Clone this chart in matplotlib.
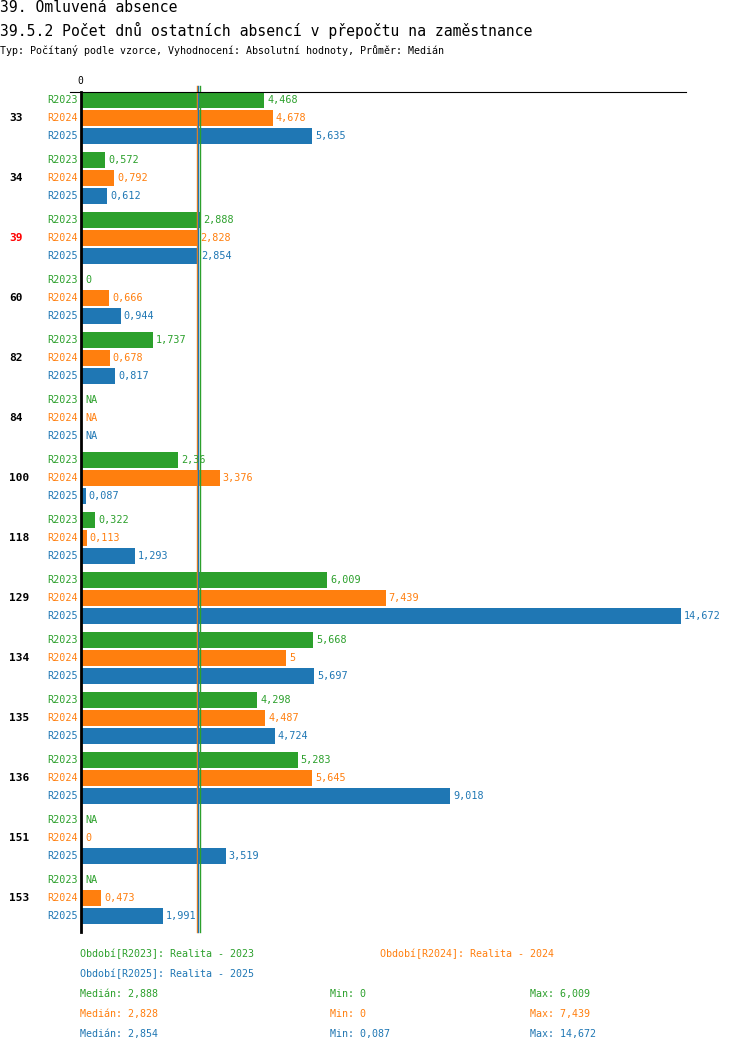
import matplotlib
matplotlib.use("Agg")
import matplotlib.pyplot as plt
import numpy as np

categories = ["33", "34", "39", "60", "82", "84", "100", "118", "129", "134", "135", "136", "151", "153"]
highlight = "39"
series = ["R2023", "R2024", "R2025"]
colors = ["#2ca02c", "#ff7f0e", "#1f77b4"]
# None = NA
r2023 = [4.468, 0.572, 2.888, 0.0, 1.737, None, 2.36, 0.322, 6.009, 5.668, 4.298, 5.283, None, None]
r2024 = [4.678, 0.792, 2.828, 0.666, 0.678, None, 3.376, 0.113, 7.439, 5.0, 4.487, 5.645, 0.0, 0.473]
r2025 = [5.635, 0.612, 2.854, 0.944, 0.817, None, 0.087, 1.293, 14.672, 5.697, 4.724, 9.018, 3.519, 1.991]
values = [r2023, r2024, r2025]

title1 = "39. Omluvená absence"
title2 = "39.5.2 Počet dnů ostatních absencí v přepočtu na zaměstnance"
subtitle = "Typ: Počítaný podle vzorce, Vyhodnocení: Absolutní hodnoty, Průměr: Medián"
period_labels = ["Období[R2023]: Realita - 2023", "Období[R2024]: Realita - 2024", "Období[R2025]: Realita - 2025"]

W, H = 750, 1052
MONO = ["DejaVu Sans Mono"]


def fmt(v):
    s = f"{v:.3f}".rstrip("0").rstrip(".")
    return s.replace(".", ",")


def fx(x):
    return x / W


def fy(y):
    return 1 - y / H


fig = plt.figure(figsize=(W / 100, H / 100), dpi=100)
fig.patch.set_facecolor("white")

# titles
fig.text(fx(0), fy(8), title1, fontsize=10.6, family=MONO, va="center", ha="left")
fig.text(fx(0), fy(30), title2, fontsize=10.6, family=MONO, va="center", ha="left")
fig.text(fx(0), fy(50), subtitle, fontsize=7.2, family=MONO, va="center", ha="left")

# axes area
ax_left, ax_right, ax_top, ax_bottom = 82, 686, 92, 932
ax = fig.add_axes([fx(ax_left), fy(ax_bottom), (ax_right - ax_left) / W, (ax_bottom - ax_top) / H])
ax.set_xlim(0, 14.8)
n = len(categories)
group_h = 60
slot = 18
total = n * group_h
ax.set_ylim(total, 0)
for s in ax.spines.values():
    s.set_visible(False)
ax.set_xticks([])
ax.set_yticks([])
ax.patch.set_alpha(0)

# top line and left axis line
fig.add_artist(plt.Line2D([fx(70), fx(686)], [fy(92), fy(92)], color="black", lw=0.8))
fig.add_artist(plt.Line2D([fx(81), fx(81)], [fy(92), fy(932)], color="black", lw=2.0))
fig.text(fx(80), fy(81), "0", fontsize=7, family=MONO, ha="center", va="center")

# medians
medians = []
mins = []
maxs = []
for vals in values:
    arr = np.array([v for v in vals if v is not None])
    medians.append(float(np.median(arr)))
    mins.append(float(arr.min()))
    maxs.append(float(arr.max()))

for gi, cat in enumerate(categories):
    yc = gi * group_h + 8 + slot
    ycp = ax_top + yc
    fig.text(fx(9), fy(ycp), cat, fontsize=8, family=MONO, fontweight="bold",
             color="#ff0000" if cat == highlight else "black", ha="left", va="center")
    for si, (name, col) in enumerate(zip(series, colors)):
        y = gi * group_h + 8 + si * slot
        v = values[si][gi]
        fig.text(fx(78), fy(ax_top + y), name, fontsize=7.3, family=MONO, color=col,
                 ha="right", va="center")
        if v is None:
            ax.annotate("NA", (0, y), xytext=(3, 0), textcoords="offset pixels",
                        fontsize=7.3, family=MONO, color=col, va="center", ha="left")
            continue
        ax.barh(y, v, height=16, color=col, left=0)
        ax.annotate(fmt(v), (v, y), xytext=(3, 0), textcoords="offset pixels",
                    fontsize=7.3, family=MONO, color=col, va="center", ha="left")

for med, col in sorted(zip(medians, colors)):
    ax.axvline(med, ymin=0, ymax=1.007, color=col, lw=1.0, clip_on=False)

# legend
fig.text(fx(80), fy(954), period_labels[0], fontsize=7.2, family=MONO, color=colors[0], va="center")
fig.text(fx(380), fy(954), period_labels[1], fontsize=7.2, family=MONO, color=colors[1], va="center")
fig.text(fx(80), fy(974), period_labels[2], fontsize=7.2, family=MONO, color=colors[2], va="center")
for i, col in enumerate(colors):
    yy = 994 + 20 * i
    fig.text(fx(80), fy(yy), f"Medián: {fmt(medians[i])}", fontsize=7.2, family=MONO, color=col, va="center")
    fig.text(fx(330), fy(yy), f"Min: {fmt(mins[i])}", fontsize=7.2, family=MONO, color=col, va="center")
    fig.text(fx(530), fy(yy), f"Max: {fmt(maxs[i])}", fontsize=7.2, family=MONO, color=col, va="center")

fig.savefig("out.png", dpi=100, facecolor="white")
